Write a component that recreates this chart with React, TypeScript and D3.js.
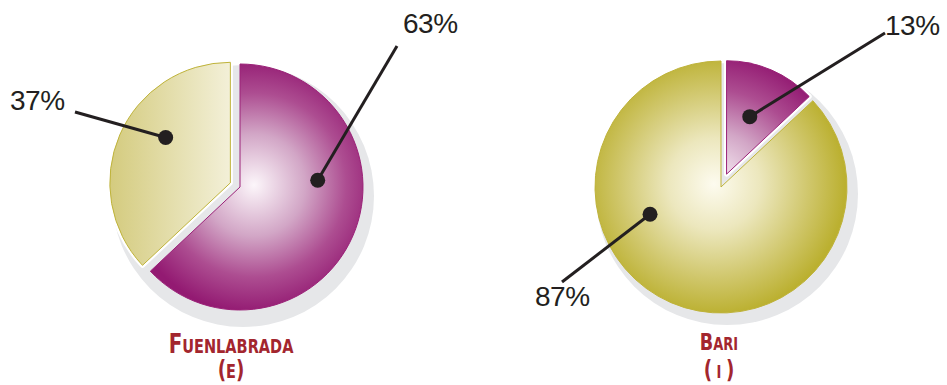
import React from "react";
import * as d3 from "d3";

// Share of respondents per city, in percent
const cities = ["Fuenlabrada", "Bari"];
const countries = ["E", "I"];
const magentaShare = [63, 13];
const oliveShare = [37, 87];

const WIDTH = 947;
const HEIGHT = 385;

const SHADOW = "#e6e7e9";
const INK = "#231f20";
const TITLE = "#a3262e";
const TITLE_FONT = "'DejaVu Sans Condensed', 'Liberation Sans Narrow', sans-serif";

type Layout = {
  cx: number;
  cy: number;
  r: number;
  shadow: { dx: number; dy: number; r: number };
  // per slice: [magenta, olive]
  explode: [number, number];
  rScale: [number, number];
  dot: [{ a: number; d: number }, { a: number; d: number }];
  label: [{ x: number; y: number; lx: number; ly: number }, { x: number; y: number; lx: number; ly: number }];
  title: { x: number; y: number; big: number; small: number; squeeze: number; paren: number; y2: number };
  glow: { dx: number; dy: number };
};

const layouts: Layout[] = [
  {
    cx: 240,
    cy: 187,
    r: 123,
    shadow: { dx: 3, dy: 9, r: 131 },
    explode: [0, 10.5],
    rScale: [1, 0.98],
    dot: [
      { a: 85, d: 78 },
      { a: 305, d: 79 },
    ],
    label: [
      { x: 403, y: 33, lx: 397, ly: 46 },
      { x: 10, y: 110, lx: 75, ly: 112 },
    ],
    title: { x: 231, y: 353, big: 26, small: 19, squeeze: 0.85, paren: 24, y2: 378 },
    glow: { dx: 14, dy: -2 },
  },
  {
    cx: 721,
    cy: 187,
    r: 126,
    shadow: { dx: 6, dy: 7, r: 131 },
    explode: [14, 0],
    rScale: [0.9, 1],
    dot: [
      { a: 22, d: 62 },
      { a: 249, d: 76 },
    ],
    label: [
      { x: 885, y: 35, lx: 885, ly: 33 },
      { x: 535, y: 306, lx: 562, ly: 282 },
    ],
    title: { x: 719, y: 350, big: 23, small: 17, squeeze: 0.85, paren: 24, y2: 378 },
    glow: { dx: -7, dy: -3 },
  },
];

const pie = d3
  .pie<number>()
  .sort(null)
  .value((d) => d);

const polar = (angle: number, dist: number): [number, number] => [
  Math.sin(angle) * dist,
  -Math.cos(angle) * dist,
];

const MAG_STOPS: [number, string][] = [
  [0, "#fcf6fa"],
  [0.4, "#d2a6c6"],
  [0.72, "#ad4d91"],
  [1, "#931a72"],
];
const OLI_STOPS: [number, string][] = [
  [0, "#fdfbef"],
  [0.35, "#ece7bd"],
  [0.72, "#d0c76c"],
  [1, "#bbb030"],
];

function PieChart({ index }: { index: number }) {
  const L = layouts[index];
  const values = [magentaShare[index], oliveShare[index]];
  const arcs = pie(values);
  const id = `p${index}`;
  const sep = countries[index].length === 1 && countries[index] === "I" ? " " : "";

  return (
    <g>
      <circle
        cx={L.cx + L.shadow.dx}
        cy={L.cy + L.shadow.dy}
        r={L.shadow.r}
        fill={SHADOW}
      />

      {arcs.map((a, i) => {
        const mid = (a.startAngle + a.endAngle) / 2;
        const [ox, oy] = polar(mid, L.explode[i]);
        const radius = L.r * L.rScale[i];
        const arcGen = d3
          .arc<d3.PieArcDatum<number>>()
          .innerRadius(0)
          .outerRadius(radius);
        const path = arcGen(a) || "";
        const isMag = i === 0;
        const flat = !isMag && index === 0;
        const gid = `${id}-s${i}`;
        // gradient centre expressed in the slice's own (translated) frame
        const gx = L.glow.dx - ox;
        const gy = L.glow.dy - oy;
        const stops = isMag ? MAG_STOPS : OLI_STOPS;
        const stroke = isMag ? "#9b2278" : "#bfb33a";
        return (
          <g key={i} transform={`translate(${L.cx + ox},${L.cy + oy})`}>
            <defs>
              {flat ? (
                <linearGradient id={gid} gradientUnits="userSpaceOnUse" x1={-radius} y1={0} x2={0} y2={0}>
                  <stop offset="0" stopColor="#d4cb7e" />
                  <stop offset="1" stopColor="#f3f0d8" />
                </linearGradient>
              ) : (
                <radialGradient id={gid} gradientUnits="userSpaceOnUse" cx={gx} cy={gy} r={L.r * 1.04}>
                  {stops.map(([o, c]) => (
                    <stop key={o} offset={o} stopColor={c} />
                  ))}
                </radialGradient>
              )}
            </defs>
            {L.explode[i] > 0 && (
              <path d={path} fill="none" stroke="#ffffff" strokeWidth={5} strokeLinejoin="round" />
            )}
            <path d={path} fill={`url(#${gid})`} stroke={stroke} strokeWidth={1} />
          </g>
        );
      })}

      {arcs.map((a, i) => {
        const mid = (a.startAngle + a.endAngle) / 2;
        const [ox, oy] = polar(mid, L.explode[i]);
        const [dx, dy] = polar((L.dot[i].a * Math.PI) / 180, L.dot[i].d);
        const px = L.cx + ox + dx;
        const py = L.cy + oy + dy;
        const lab = L.label[i];
        return (
          <g key={`lab${i}`}>
            <line x1={px} y1={py} x2={lab.lx} y2={lab.ly} stroke={INK} strokeWidth={3} />
            <circle cx={px} cy={py} r={7.5} fill={INK} />
            <text
              x={lab.x}
              y={lab.y}
              fontFamily="'Liberation Sans', Arial, Helvetica, sans-serif"
              fontSize={28}
              letterSpacing={-0.5}
              fill={INK}
            >
              {`${a.data}%`}
            </text>
          </g>
        );
      })}

      <g transform={`translate(${L.title.x},0) scale(${L.title.squeeze},1)`}>
        <text
          x={0}
          y={L.title.y}
          textAnchor="middle"
          fontFamily={TITLE_FONT}
          fontWeight="bold"
          fill={TITLE}
        >
          <tspan fontSize={L.title.big}>{cities[index].charAt(0).toUpperCase()}</tspan>
          <tspan fontSize={L.title.small}>{cities[index].slice(1).toUpperCase()}</tspan>
        </text>
        <text
          x={0}
          y={L.title.y2}
          textAnchor="middle"
          fontFamily={TITLE_FONT}
          fontWeight="bold"
          fill={TITLE}
        >
          <tspan fontSize={L.title.paren}>(</tspan>
          <tspan fontSize={L.title.small}>{`${sep}${countries[index]}${sep}`}</tspan>
          <tspan fontSize={L.title.paren}>)</tspan>
        </text>
      </g>
    </g>
  );
}

export default function App() {
  return (
    <svg
      width={WIDTH}
      height={HEIGHT}
      viewBox={`0 0 ${WIDTH} ${HEIGHT}`}
      style={{ position: "absolute", left: 0, top: 0, background: "#ffffff" }}
    >
      {cities.map((_, i) => (
        <PieChart key={i} index={i} />
      ))}
    </svg>
  );
}
